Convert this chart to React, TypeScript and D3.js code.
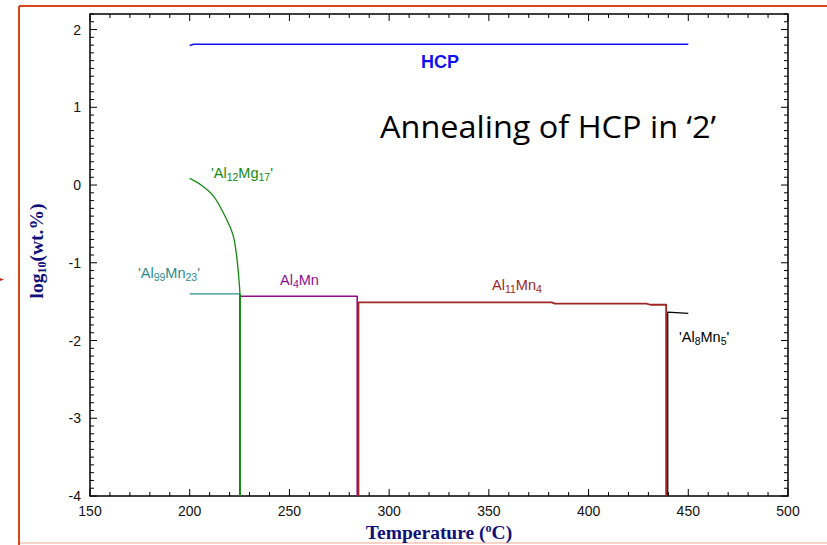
import React from "react";
import * as d3 from "d3";

// Phase boundary curves: temperature (°C) and log10(wt.%)
const hcpT = [200, 202, 450];
const hcpV = [1.795, 1.81, 1.81];

const al12Mg17T = [200, 205, 211.7, 218.4, 221.8, 223.5, 224.8, 225.2];
const al12Mg17V = [0.086, 0.013, -0.137, -0.437, -0.651, -0.908, -1.25, -1.4];
const al12Mg17DropT = [225.2, 225.2];
const al12Mg17DropV = [-1.4, -4];

const al99Mn23T = [200, 225.2];
const al99Mn23V = [-1.4, -1.4];

const al4MnT = [225.2, 284.0, 284.0];
const al4MnV = [-1.43, -1.43, -4];

const al11Mn4T = [284.6, 284.6, 381.5, 383, 429, 431, 438.9, 438.9];
const al11Mn4V = [-4, -1.51, -1.51, -1.525, -1.525, -1.54, -1.54, -4];

const al8Mn5T = [439.7, 439.7, 450];
const al8Mn5V = [-4, -1.635, -1.65];

const xTicks = [150, 200, 250, 300, 350, 400, 450, 500];
const yTicks = [-4, -3, -2, -1, 0, 1, 2];

const W = 827;
const H = 545;
const L = 90, R = 788, T = 14, B = 496;

export default function App() {
  const x = d3.scaleLinear().domain([150, 500]).range([L, R]);
  const y = d3.scaleLinear().domain([-4, 2.2]).range([B, T]);

  const path = (ts: number[], vs: number[], curve: d3.CurveFactory = d3.curveLinear) =>
    d3.line<number>().curve(curve).x((_, i) => x(ts[i])).y((_, i) => y(vs[i]))(ts) || "";

  const xMinor = d3.range(150, 501, 10);
  const yMinor = d3.range(-40, 23, 1).map((v) => v / 10);

  const tickFont = "'Liberation Sans', Arial, sans-serif";
  const serif = "'Liberation Serif', 'Times New Roman', serif";
  const navy = "#10107a";

  const sub = (t: string) => (
    <tspan baselineShift="-25%" fontSize="10.5">{t}</tspan>
  );
  const after = (t: string) => <tspan baselineShift="0%">{t}</tspan>;

  return (
    <svg
      width={W}
      height={H}
      style={{ position: "absolute", left: 0, top: 0, background: "#fff" }}
      fontFamily={tickFont}
    >
      {/* outer slide frame */}
      <line x1={19} y1={6} x2={W} y2={6} stroke="#d8461c" strokeWidth={2} />
      <line x1={19} y1={6} x2={19} y2={H} stroke="#d8461c" strokeWidth={2} />
      <line x1={20} y1={543} x2={W} y2={543} stroke="#f6c4b4" strokeWidth={1.5} />
      <path d="M0,278 L4,279.5 L0,281 Z" fill="#d0281c" />

      {/* ticks, pointing inward on all four sides */}
      {xMinor.map((v) => {
        const major = v % 50 === 0;
        const len = major ? 7 : 4;
        return (
          <g key={"xt" + v} stroke="#000" strokeWidth={1}>
            <line x1={x(v)} x2={x(v)} y1={B} y2={B - len} />
            <line x1={x(v)} x2={x(v)} y1={T} y2={T + len} />
          </g>
        );
      })}
      {yMinor.map((v) => {
        const major = Math.abs(v - Math.round(v)) < 1e-6;
        const len = major ? 7 : 4;
        return (
          <g key={"yt" + v} stroke="#000" strokeWidth={1}>
            <line x1={L} x2={L + len} y1={y(v)} y2={y(v)} />
            <line x1={R} x2={R - len} y1={y(v)} y2={y(v)} />
          </g>
        );
      })}

      {/* plot frame */}
      <rect x={L} y={T} width={R - L} height={B - T} fill="none" stroke="#000" strokeWidth={1.5} />

      {/* tick labels */}
      {xTicks.map((v) => (
        <text key={"xl" + v} x={x(v)} y={516} textAnchor="middle" fontSize={14} fill="#111">
          {v}
        </text>
      ))}
      {yTicks.map((v) => (
        <text key={"yl" + v} x={81} y={y(v) + 5} textAnchor="end" fontSize={14} fill="#111">
          {v}
        </text>
      ))}

      {/* axis titles */}
      <text
        x={439}
        y={539}
        textAnchor="middle"
        fontFamily={serif}
        fontWeight="bold"
        fontSize={19.5}
        fill={navy}
      >
        Temperature (<tspan baselineShift="super" fontSize={12}>o</tspan>
        <tspan baselineShift="0%">C)</tspan>
      </text>
      <text
        transform={`translate(43,251) rotate(-90)`}
        textAnchor="middle"
        fontFamily={serif}
        fontWeight="bold"
        fontSize={19.5}
        fill={navy}
      >
        log<tspan baselineShift="-25%" fontSize={12}>10</tspan>
        <tspan baselineShift="0%">(wt.%)</tspan>
      </text>

      {/* phase curves */}
      <g fill="none" strokeLinejoin="round">
        <path d={path(hcpT, hcpV)} stroke="#1010f0" strokeWidth={1.5} />
        <path d={path(al99Mn23T, al99Mn23V)} stroke="#2b8c8c" strokeWidth={1.2} />
        <path d={path(al4MnT, al4MnV)} stroke="#8e0e8e" strokeWidth={1.6} />
        <path d={path(al11Mn4T, al11Mn4V)} stroke="#a02626" strokeWidth={1.8} />
        <path d={path(al8Mn5T, al8Mn5V)} stroke="#000" strokeWidth={1.2} />
        <path d={path(al12Mg17T, al12Mg17V, d3.curveCatmullRom)} stroke="#138a13" strokeWidth={1.3} />
        <path d={path(al12Mg17DropT, al12Mg17DropV)} stroke="#138a13" strokeWidth={2} />
      </g>

      {/* phase labels */}
      <text x={421} y={67.5} fontSize={18} fontWeight="bold" fill="#1010f0">HCP</text>
      <text x={211} y={178} fontSize={14.5} fill="#138a13">
        'Al{sub("12")}{after("Mg")}{sub("17")}{after("'")}
      </text>
      <text x={138} y={278} fontSize={14.5} fill="#2b8c8c">
        'Al{sub("99")}{after("Mn")}{sub("23")}{after("'")}
      </text>
      <text x={280} y={285} fontSize={14.5} fill="#8e0e8e">
        Al{sub("4")}{after("Mn")}
      </text>
      <text x={492} y={290} fontSize={14.5} fill="#a02626">
        Al{sub("11")}{after("Mn")}{sub("4")}
      </text>
      <text x={679} y={342} fontSize={14.5} fill="#000">
        'Al{sub("8")}{after("Mn")}{sub("5")}{after("'")}
      </text>

      <text
        x={380}
        y={138}
        fontFamily="'Open Sans', 'Noto Sans', sans-serif"
        fontSize={31}
        textLength={336}
        lengthAdjust="spacingAndGlyphs"
        fill="#000"
      >
        Annealing of HCP in ‘2’
      </text>
    </svg>
  );
}
